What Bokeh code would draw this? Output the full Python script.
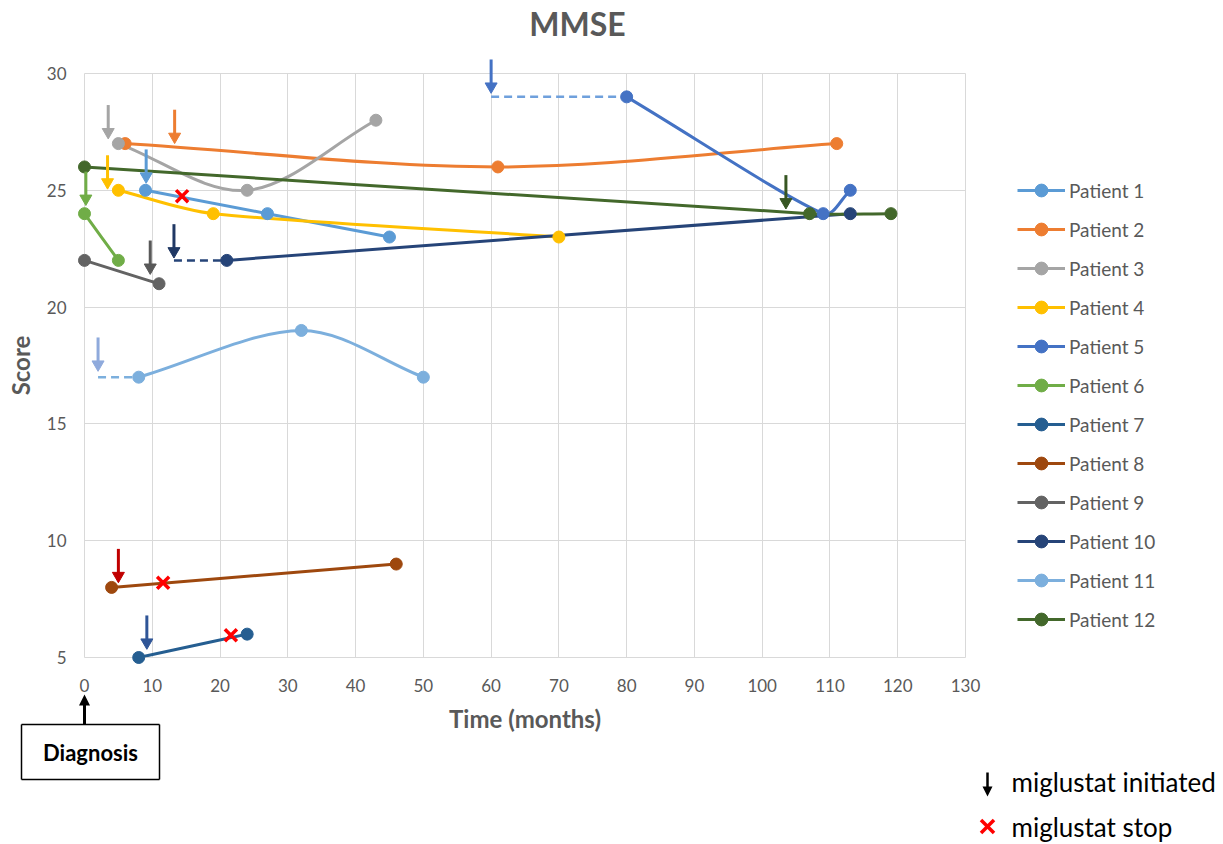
import math
from bokeh.plotting import figure
from bokeh.models import (ColumnDataSource, Legend, LegendItem, FixedTicker, Range1d)
from bokeh.core.properties import value
from bokeh.embed import file_html
from bokeh.resources import INLINE

# ---------------- data ----------------
patients = [f"Patient {i}" for i in range(1, 13)]

time_p1 = [9, 27, 45];    score_p1 = [25, 24, 23]
time_p2 = [6, 61, 111];   score_p2 = [27, 26, 27]
time_p3 = [5, 24, 43];    score_p3 = [27, 25, 28]
time_p4 = [5, 19, 70];    score_p4 = [25, 24, 23]
time_p5 = [80, 109, 113]; score_p5 = [29, 24, 25]
time_p6 = [0, 5];         score_p6 = [24, 22]
time_p7 = [8, 24];        score_p7 = [5, 6]
time_p8 = [4, 46];        score_p8 = [8, 9]
time_p9 = [0, 11];        score_p9 = [22, 21]
time_p10 = [21, 113];     score_p10 = [22, 24]
time_p11 = [8, 32, 50];   score_p11 = [17, 19, 17]
time_p12 = [0, 107, 119]; score_p12 = [26, 24, 24]

times = [time_p1, time_p2, time_p3, time_p4, time_p5, time_p6,
         time_p7, time_p8, time_p9, time_p10, time_p11, time_p12]
scores = [score_p1, score_p2, score_p3, score_p4, score_p5, score_p6,
          score_p7, score_p8, score_p9, score_p10, score_p11, score_p12]

line_colors = ["#5B9BD5", "#ED7D31", "#A5A5A5", "#FFC000", "#4472C4", "#70AD47",
               "#255E91", "#9E480E", "#636363", "#264478", "#7CAFDD", "#43682B"]

# miglustat initiation (month) and the score level the arrow points at
miglustat_start = [9.1, 13.3, 3.5, 3.4, 60, 0.2, 9.2, 5.0, 9.7, 13.2, 2.0, 103.5]
arrow_tip_score = [25.3, 27.0, 27.2, 25.05, 29.15, 24.35, 5.35, 8.2, 21.4, 22.1, 17.25, 24.2]
arrow_colors = ["#5B9BD5", "#ED7D31", "#A5A5A5", "#FFC000", "#4472C4", "#70AD47",
                "#2F5597", "#C00000", "#595959", "#203864", "#8FAADC", "#375623"]

# pre-treatment gap drawn dashed (patient index, 0-based)
dashed_idx = [4, 9, 10]
dashed_colors = ["#6FA0DC", "#264478", "#7CAFDD"]

# miglustat stop
stop_time = [14.4, 11.6, 21.6]
stop_score = [24.75, 8.2, 5.95]

x_ticks = list(range(0, 131, 10))
y_ticks = [5, 10, 15, 20, 25, 30]

FONT = "Lato"
GREY = "#595959"
ARROW_LEN = 1.45

FRAME_W, FRAME_H = 881, 584
LEFT, TOP = 84, 73
X0, X1, Y0, Y1 = 0, 130, 5, 30
PX_X = FRAME_W / (X1 - X0)
PX_Y = FRAME_H / (Y1 - Y0)


def dx(px):   # page pixel x -> data x
    return X0 + (px - LEFT) / PX_X


def dy(py):   # page pixel y -> data y
    return Y1 - (py - TOP) / PX_Y


# ---------------- figure ----------------
p = figure(frame_width=FRAME_W, frame_height=FRAME_H,
           x_range=Range1d(X0, X1), y_range=Range1d(Y0, Y1),
           output_backend="svg", toolbar_location=None,
           min_border_left=LEFT, min_border_right=258, min_border_top=TOP,
           min_border_bottom=187, background_fill_color="white",
           border_fill_color="white", outline_line_color="#D9D9D9")

for ax in (p.xaxis[0], p.yaxis[0]):
    ax.axis_line_color = None
    ax.major_tick_line_color = None
    ax.minor_tick_line_color = None
    ax.major_tick_out = 0
    ax.major_tick_in = 0
    ax.minor_tick_out = 0
    ax.minor_tick_in = 0
    ax.major_label_text_font = FONT
    ax.major_label_text_font_size = "17px"
    ax.major_label_text_color = GREY
    ax.axis_label_text_font = FONT
    ax.axis_label_text_font_size = "24px"
    ax.axis_label_text_font_style = "bold"
    ax.axis_label_text_color = GREY

p.xaxis.ticker = FixedTicker(ticks=x_ticks)
p.yaxis.ticker = FixedTicker(ticks=y_ticks)
p.xaxis.axis_label = "Time (months)"
p.yaxis.axis_label = "Score"
p.xaxis.major_label_standoff = 21
p.yaxis.major_label_standoff = 18
p.xaxis.axis_label_standoff = 9
p.yaxis.axis_label_standoff = 9
p.xgrid.grid_line_color = "#D9D9D9"
p.ygrid.grid_line_color = "#D9D9D9"
p.xgrid.ticker = FixedTicker(ticks=x_ticks)
p.ygrid.ticker = FixedTicker(ticks=y_ticks)


def smooth_segments(xs, ys):
    """Bezier control points for a smoothed (spreadsheet-style) line."""
    n = len(xs)

    def dist(i, j):
        return math.hypot((xs[j] - xs[i]) * PX_X, (ys[j] - ys[i]) * PX_Y)

    d = {k: [] for k in ["x0", "y0", "x1", "y1", "cx0", "cy0", "cx1", "cy1"]}
    for i in range(n - 1):
        a = max(i - 1, 0)
        b = min(i + 2, n - 1)
        d01, d12, d23 = dist(a, i), dist(i, i + 1), dist(i + 1, b)
        f1 = 1 / 6 * min(1.0, 2 * d12 / (d01 + d12)) if a != i else 1 / 3
        f2 = 1 / 6 * min(1.0, 2 * d12 / (d12 + d23)) if b != i + 1 else 1 / 3
        d["x0"].append(xs[i]); d["y0"].append(ys[i])
        d["x1"].append(xs[i + 1]); d["y1"].append(ys[i + 1])
        d["cx0"].append(xs[i] + (xs[i + 1] - xs[a]) * f1)
        d["cy0"].append(ys[i] + (ys[i + 1] - ys[a]) * f1)
        d["cx1"].append(xs[i + 1] - (xs[b] - xs[i]) * f2)
        d["cy1"].append(ys[i + 1] - (ys[b] - ys[i]) * f2)
    return d


# dashed pre-treatment segments
p.segment(x0=[miglustat_start[i] for i in dashed_idx],
          y0=[scores[i][0] for i in dashed_idx],
          x1=[times[i][0] for i in dashed_idx],
          y1=[scores[i][0] for i in dashed_idx],
          line_color=dashed_colors, line_width=2.5, line_dash="8 5")

items = []
for i in range(12):
    src = ColumnDataSource(smooth_segments(times[i], scores[i]))
    br = p.bezier(x0="x0", y0="y0", x1="x1", y1="y1", cx0="cx0", cy0="cy0",
                  cx1="cx1", cy1="cy1", source=src, line_color=line_colors[i],
                  line_width=3)
    sr = p.scatter(times[i], scores[i], size=12, marker="circle",
                   fill_color=line_colors[i], line_color=line_colors[i],
                   level="overlay")
    items.append(LegendItem(label=patients[i], renderers=[br, sr]))

p.scatter(stop_time, stop_score, marker="x", size=17, line_width=3.5,
          line_color="#FF0000", level="overlay")

# miglustat-initiation arrows (shaft + inverted triangle head)
head = 12
off = head / math.sqrt(3) / PX_Y
p.segment(x0=miglustat_start, y0=[t + ARROW_LEN for t in arrow_tip_score],
          x1=miglustat_start, y1=[t + off for t in arrow_tip_score],
          line_color=arrow_colors, line_width=3, level="overlay")
p.scatter(miglustat_start, [t + off for t in arrow_tip_score], marker="inverted_triangle",
          size=head, fill_color=arrow_colors, line_color=arrow_colors, line_width=1,
          level="overlay")

legend = Legend(items=items, location=(52, 22), padding=0, margin=0,
                border_line_color=None, background_fill_alpha=0,
                glyph_width=48, glyph_height=32, label_height=32, spacing=7,
                label_standoff=4, label_text_font=FONT, label_text_font_size="19px",
                label_text_color=GREY, label_text_baseline="middle")
p.add_layout(legend, "right")


# ---------- texts and marks outside the plotting frame ----------
def triangle_head(cx, tip_py, base_py, half_px, color):
    """filled triangular arrow head given in page pixels (drawn unclipped)."""
    p.varea(x=[dx(cx - half_px), dx(cx), dx(cx + half_px)],
            y1=[dy(base_py), dy(tip_py), dy(base_py)],
            y2=[dy(base_py), dy(base_py), dy(base_py)],
            fill_color=color, level="overlay")


p.text(x=[dx(577)], y=[dy(23)], text=["MMSE"], text_font=value(FONT),
       text_font_size="32px", text_font_style="bold", text_color=GREY,
       text_align="center", text_baseline="middle", level="overlay")

# Diagnosis box (month 0) with arrow pointing at the axis origin
bx0, bx1, by0, by1 = dx(21), dx(159), dy(724), dy(779)
p.segment(x0=[bx0, bx0, bx0, bx1], y0=[by0, by1, by0, by0],
          x1=[bx1, bx1, bx0, bx1], y1=[by0, by1, by1, by1],
          line_color="black", line_width=1.5, level="overlay")
p.text(x=[dx(90)], y=[dy(752)], text=["Diagnosis"], text_font=value(FONT),
       text_font_size="22px", text_font_style="bold", text_color="black",
       text_align="center", text_baseline="middle", level="overlay")
p.segment(x0=[X0], y0=[by0], x1=[X0], y1=[dy(704)], line_color="black",
          line_width=3, level="overlay")
triangle_head(LEFT, 694, 705, 5.5, "black")

# key
kx = dx(987)
p.segment(x0=[kx], y0=[dy(772)], x1=[kx], y1=[dy(787)], line_color="black",
          line_width=2.5, level="overlay")
triangle_head(987, 796, 786, 5, "black")
h = 6.5
p.segment(x0=[dx(987 - h), dx(987 - h)], y0=[dy(826 - h), dy(826 + h)],
          x1=[dx(987 + h), dx(987 + h)], y1=[dy(826 + h), dy(826 - h)],
          line_color="#FF0000", line_width=3.5, level="overlay")
p.text(x=[dx(1011), dx(1011)], y=[dy(781), dy(826)],
       text=["miglustat initiated", "miglustat stop"], text_font=value(FONT),
       text_font_size="26px", text_color="black", text_align="left",
       text_baseline="middle", level="overlay")

open("out.html", "w").write(file_html(p, INLINE))
